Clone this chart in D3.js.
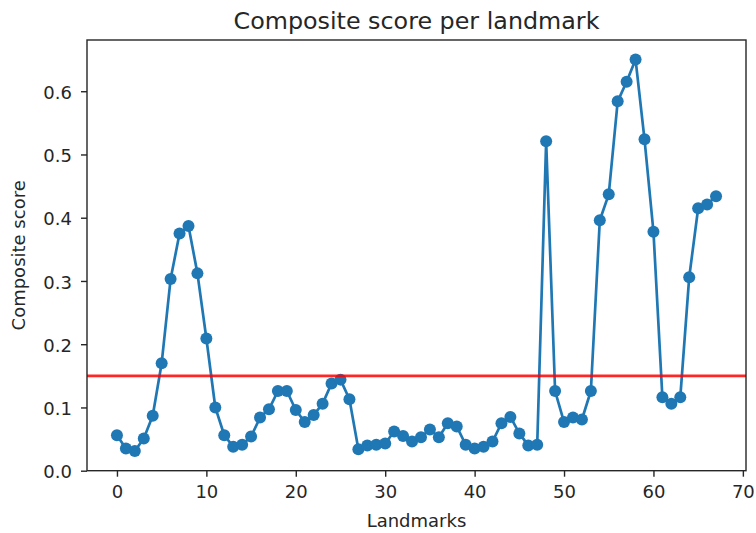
<!DOCTYPE html>
<html>
<head>
  <meta charset="utf-8">
  <script src="https://d3js.org/d3.v7.min.js"></script>
  <style>
    body { margin: 0; background: #fff; }
    text { font-family: "DejaVu Sans", sans-serif; fill: #262626; }
    .axis path, .axis line { stroke: #262626; stroke-width: 1.4px; }
  </style>
</head>
<body>
  <script type="text/javascript">
    // composite score for each landmark (index = landmark number)
    var scores = [0.056, 0.035, 0.031, 0.051, 0.087, 0.170, 0.303, 0.375, 0.387, 0.312,
                  0.209, 0.100, 0.056, 0.038, 0.041, 0.054, 0.084, 0.097, 0.126, 0.126,
                  0.096, 0.077, 0.088, 0.106, 0.138, 0.144, 0.113, 0.034, 0.040, 0.041,
                  0.043, 0.062, 0.055, 0.046, 0.053, 0.065, 0.053, 0.075, 0.070, 0.041,
                  0.035, 0.038, 0.046, 0.075, 0.085, 0.059, 0.040, 0.041, 0.521, 0.126,
                  0.077, 0.084, 0.081, 0.126, 0.396, 0.437, 0.584, 0.615, 0.650, 0.524,
                  0.378, 0.116, 0.106, 0.116, 0.306, 0.415, 0.421, 0.434];
    var threshold = 0.15;
    var xTicks = [0, 10, 20, 30, 40, 50, 60, 70];
    var yTicks = [0.0, 0.1, 0.2, 0.3, 0.4, 0.5, 0.6];

    var W = 756, H = 533;
    var plotL = 87, plotR = 746, plotT = 40, plotB = 470.7;

    var svg = d3.select("body")
      .append("svg")
      .attr("width", W)
      .attr("height", H);

    var n = scores.length - 1;
    var x = d3.scaleLinear()
      .domain([-0.05 * n, n * 1.05])
      .range([plotL, plotR]);
    var y = d3.scaleLinear()
      .domain([0, 0.681])
      .range([plotB, plotT]);

    // axes
    var xAxis = svg.append("g")
      .attr("class", "axis")
      .attr("transform", "translate(0," + plotB + ")")
      .call(d3.axisBottom(x).tickValues(xTicks).tickSize(6).tickPadding(9).tickSizeOuter(0));
    xAxis.select(".domain").remove();
    xAxis.selectAll("text").style("font-size", "18px").style("fill", "#262626");

    var yAxis = svg.append("g")
      .attr("class", "axis")
      .attr("transform", "translate(" + plotL + ",0)")
      .call(d3.axisLeft(y).tickValues(yTicks).tickFormat(d3.format(".1f")).tickSize(6).tickPadding(9).tickSizeOuter(0));
    yAxis.select(".domain").remove();
    yAxis.selectAll("text").style("font-size", "18px").style("fill", "#262626").attr("dy", "0.4em");

    // line + markers
    var line = d3.line()
      .x(function(d, i) { return x(i); })
      .y(function(d) { return y(d); });

    svg.append("path")
      .datum(scores)
      .attr("d", line)
      .attr("fill", "none")
      .attr("stroke", "#1f77b4")
      .attr("stroke-width", 2.7)
      .attr("stroke-linejoin", "round");

    svg.selectAll("circle.pt")
      .data(scores)
      .enter()
      .append("circle")
      .attr("class", "pt")
      .attr("cx", function(d, i) { return x(i); })
      .attr("cy", function(d) { return y(d); })
      .attr("r", 6)
      .attr("fill", "#1f77b4");

    // threshold line
    svg.append("line")
      .attr("x1", plotL)
      .attr("x2", plotR)
      .attr("y1", y(threshold))
      .attr("y2", y(threshold))
      .attr("stroke", "#ff0000")
      .attr("stroke-opacity", 0.85)
      .attr("stroke-width", 2.7);

    // frame
    svg.append("rect")
      .attr("x", plotL)
      .attr("y", plotT)
      .attr("width", plotR - plotL)
      .attr("height", plotB - plotT)
      .attr("fill", "none")
      .attr("stroke", "#262626")
      .attr("stroke-width", 1.4);

    // titles
    svg.append("text")
      .attr("x", (plotL + plotR) / 2)
      .attr("y", 29)
      .attr("text-anchor", "middle")
      .style("font-size", "23.8px")
      .text("Composite score per landmark");

    svg.append("text")
      .attr("x", (plotL + plotR) / 2)
      .attr("y", 527)
      .attr("text-anchor", "middle")
      .style("font-size", "18px")
      .text("Landmarks");

    svg.append("text")
      .attr("transform", "translate(25," + ((plotT + plotB) / 2) + ") rotate(-90)")
      .attr("text-anchor", "middle")
      .style("font-size", "18px")
      .text("Composite score");
  </script>
</body>
</html>
